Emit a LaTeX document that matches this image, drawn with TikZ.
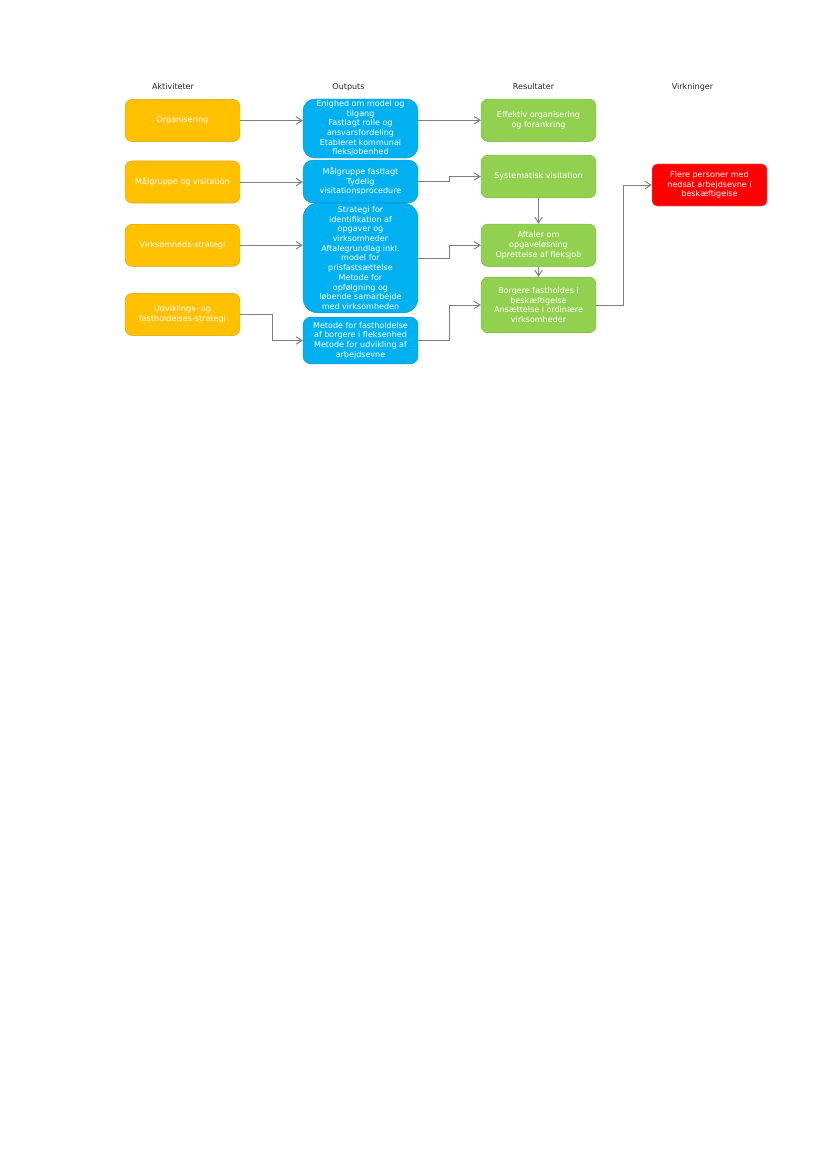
\documentclass[tikz,border=0pt]{standalone}
\usepackage{fontspec}
\setmainfont{DejaVu Sans}
\usetikzlibrary{arrows.meta,positioning}

\definecolor{actfill}{HTML}{FFC000}
\definecolor{outfill}{HTML}{00B0F0}
\definecolor{resfill}{HTML}{92D050}
\definecolor{virkfill}{HTML}{FF0000}
\definecolor{linegray}{HTML}{7F7F7F}

\tikzset{
  box/.style={rectangle, align=center, text=white, font=\fontsize{5.8}{7}\selectfont,
    minimum width=29.2mm, inner sep=1pt, line width=0.3pt},
  act/.style={box, fill=actfill, draw=actfill!85!black, rounded corners=1.8mm, minimum height=10.7mm},
  outp/.style={box, fill=outfill, draw=outfill!85!black, rounded corners=3mm},
  res/.style={box, fill=resfill, draw=resfill!85!black, rounded corners=1.8mm},
  virk/.style={box, fill=virkfill, draw=black!30, rounded corners=1.2mm, minimum height=10.7mm},
  head/.style={font=\fontsize{5.8}{7}\selectfont, text=black!85},
  flow/.style={-{Straight Barb[length=1.5mm,width=1.9mm]}, draw=linegray, line width=0.7pt}
}

\begin{document}
\begin{tikzpicture}[x=0.254mm,y=-0.254mm,node distance=45.2mm,on grid,auto]
\useasboundingbox (0,0) rectangle (827,1169);

% overskrifter
\node[head] (h_1) at (173,87) {Aktiviteter};
\node[head] (h_2) at (348.5,87) {Outputs};
\node[head] (h_3) at (533.5,87) {Resultater};
\node[head] (h_4) at (692.5,87) {Virkninger};

% aktiviteter
\node[act] (a_1) at (182.5,120.5) {Organisering};
\node[act] (a_2) at (182.5,182) {Målgruppe og visitation};
\node[act] (a_3) at (182.5,245.3) {Virksomheds-strategi};
\node[act] (a_4) at (182.5,314.5) {Udviklings- og\\fastholdelses-strategi};

% outputs
\node[outp, minimum height=15mm] (b_1) at (360.5,128.5)
  {Enighed om model og\\tilgang\\Fastlagt rolle og\\ansvarsfordeling\\Etableret kommunal\\fleksjobenhed};
\node[outp, minimum height=10.9mm, rounded corners=2.5mm] (b_2) at (360.5,181.5)
  {Målgruppe fastlagt\\Tydelig\\visitationsprocedure};
\node[outp, minimum height=27.9mm, rounded corners=3.8mm] (b_3) at (360.5,258)
  {Strategi for\\identifikation af\\opgaver og\\virksomheder\\Aftalegrundlag inkl.\\model for\\prisfastsættelse\\Metode for\\opfølgning og\\løbende samarbejde\\med virksomheden};
\node[outp, minimum height=11.9mm, rounded corners=2mm] (b_4) at (360.5,340.5)
  {Metode for fastholdelse\\af borgere i fleksenhed\\Metode for udvikling af\\arbejdsevne};

% resultater
\node[res, minimum height=10.8mm] (r_1) at (538.5,120.3) {Effektiv organisering\\og forankring};
\node[res, minimum height=10.9mm] (r_2) at (538.5,176.5) {Systematisk visitation};
\node[res, minimum height=10.8mm] (r_3) at (538.5,245.3) {Aftaler om\\opgaveløsning\\Oprettelse af fleksjob};
\node[res, minimum height=14.2mm] (r_4) at (538.5,305) {Borgere fastholdes i\\beskæftigelse\\Ansættelse i ordinære\\virksomheder};

% virkninger
\node[virk] (v_1) at (709.5,185) {Flere personer med\\nedsat arbejdsevne i\\beskæftigelse};

\draw[flow] (a_1) -- (b_1.west |- a_1);
\draw[flow] (a_2) -- (b_2.west |- a_2);
\draw[flow] (a_3) -- (b_3.west |- a_3);
\draw[flow] (b_1.east |- r_1) -- (r_1);
\draw[flow] (r_2) -- (r_3);
\draw[flow] (r_3) -- (r_4);
\draw[flow] (a_4.east) -- ++(32,0) |- (b_4.west);
\draw[flow] (b_2.east) -- ++(31,0) |- (r_2.west);
\draw[flow] (b_3.east) -- ++(31,0) |- (r_3.west);
\draw[flow] (b_4.east) -- ++(31,0) |- (r_4.west);
\draw[flow] (r_4.east) -- ++(27,0) |- (v_1.west);
\end{tikzpicture}
\end{document}
